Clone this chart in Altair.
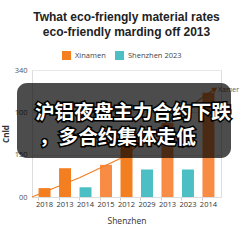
import altair as alt
import pandas as pd

# ---- data ----
x_labels = ["2018", "2013", "2014", "2015", "2012", "2029", "2013", "2023", "2014"]
bar_values = [21, 68, 23, 76, 130, 65, 175, 65, 246]
bar_series = ["Xinamen", "Xinamen", "Shenzhen 2023", "Xinamen light", "Xinamen",
              "Shenzhen 2023", "Xinamen light", "Shenzhen 2023", "Xinamen light"]

y_ticks = [0, 50, 100, 150, 200, 250, 300]
y_tick_labels = ["00", "90", "150", "140", "100", "270", "340"]

line_pos = [0.0, 0.254, 0.481, 0.714, 0.968]
line_values = [0, 46, 94, 177, 255]
line_label = "Xamer"

title_lines = ["Twhat eco-friengly material rates", "eco-friendly marding off 2013"]
caption_lines = ["沪铝夜盘主力合约下跌", "，多合约集体走低"]

legend_names = ["Xinamen", "Shenzhen 2023"]
color_domain = ["Xinamen", "Shenzhen 2023", "Xinamen light"]
color_range = ["#f47f20", "#4cbfc4", "#f98c45"]

# ---- tables ----
bars_df = pd.DataFrame({"idx": list(range(len(x_labels))), "value": bar_values, "series": bar_series})
line_df = pd.DataFrame({"pos": line_pos, "value": line_values})
end_df = line_df.tail(1).assign(label=line_label)
cap_df = pd.DataFrame({"text": caption_lines})

W, H = 189, 127
FONT = "Open Sans"

xlab_expr = "[" + ",".join(f"'{s}'" for s in x_labels) + "][datum.value]"
ylab_expr = ("[" + ",".join(f"'{s}'" for s in y_tick_labels) + "][indexof(["
             + ",".join(str(v) for v in y_ticks) + "], datum.value)]")

yscale = alt.Scale(domain=[0, 300], nice=False)

bars = alt.Chart(bars_df).mark_bar().encode(
    x=alt.X("idx:O", scale=alt.Scale(paddingInner=0.415, paddingOuter=0.32),
            axis=alt.Axis(labelExpr=xlab_expr, labelAngle=0, title="Shenzhen",
                          labelFontSize=7.5, labelColor="#333", labelFont=FONT,
                          labelPadding=0, tickSize=3, tickColor="#cccccc", bandPosition=0,
                          domainColor="#dddddd", titleFontSize=8.5, titleFontWeight="normal",
                          titleColor="#333", titleFont=FONT, titlePadding=9)),
    y=alt.Y("value:Q", scale=yscale,
            axis=alt.Axis(values=y_ticks, labelExpr=ylab_expr, title="Cnld",
                          labelFontSize=7.5, labelColor="#555", labelFont=FONT,
                          tickSize=0, labelPadding=5, gridColor="#e8e8e8",
                          domainColor="#dddddd", titleFontSize=8, titleColor="#333",
                          titleFont=FONT, titlePadding=4)),
    color=alt.Color("series:N", scale=alt.Scale(domain=color_domain, range=color_range),
                    legend=alt.Legend(values=legend_names, title=None, orient="none",
                                      legendX=30, legendY=-19, direction="horizontal",
                                      symbolType="square", symbolSize=81, symbolStrokeWidth=0,
                                      symbolOpacity=1, labelFontSize=7.5, labelColor="#444",
                                      labelFont=FONT, columnPadding=9, padding=0)),
)

lx = alt.X("pos:Q", scale=alt.Scale(domain=[0, 1], nice=False, zero=False), axis=None)
line = alt.Chart(line_df).mark_line(color="#f47f20", strokeWidth=1.2).encode(
    x=lx, y=alt.Y("value:Q", scale=yscale))
arrow = alt.Chart(end_df).mark_point(shape="triangle-right", angle=325, filled=True,
                                     color="#f47f20", size=35, opacity=1).encode(
    x=lx, y=alt.Y("value:Q", scale=yscale))
end_label = alt.Chart(end_df).mark_text(align="left", dx=3, dy=1, fontSize=7, color="#666",
                                        font=FONT).encode(
    x=lx, y=alt.Y("value:Q", scale=yscale), text="label:N")

overlay = alt.Chart(pd.DataFrame({"a": [0]})).mark_rect(
    color="black", opacity=0.7, cornerRadius=10).encode(
    x=alt.value(-15), x2=alt.value(199), y=alt.value(13), y2=alt.value(88))

cap_common = dict(align="left", baseline="middle", fontSize=19.6, fontWeight="bold",
                  font="Noto Sans CJK SC")
cap1_s = alt.Chart(cap_df.iloc[[0]]).mark_text(stroke="black", strokeWidth=3, fill="white",
                                               **cap_common).encode(
    x=alt.value(3), y=alt.value(43), text="text:N")
cap2_s = alt.Chart(cap_df.iloc[[1]]).mark_text(stroke="black", strokeWidth=3, fill="white",
                                               **cap_common).encode(
    x=alt.value(7), y=alt.value(68), text="text:N")
cap1_f = alt.Chart(cap_df.iloc[[0]]).mark_text(fill="white", **cap_common).encode(
    x=alt.value(3), y=alt.value(43), text="text:N")
cap2_f = alt.Chart(cap_df.iloc[[1]]).mark_text(fill="white", **cap_common).encode(
    x=alt.value(7), y=alt.value(68), text="text:N")

chart = alt.layer(bars, line, arrow, end_label, overlay, cap1_s, cap2_s, cap1_f, cap2_f).resolve_scale(
    x="independent"
).properties(
    width=W, height=H,
    autosize=alt.AutoSizeParams(type="none"),
    padding={"left": 32, "top": 70, "right": 22, "bottom": 46},
    title=alt.TitleParams(text=title_lines, fontSize=12, fontWeight="bold", color="#222",
                          font="Liberation Sans", anchor="middle", offset=12, lineHeight=15),
).configure_view(stroke=None).configure(background="white")

chart.save("out.html", embed_options={"renderer": "svg", "actions": False})
